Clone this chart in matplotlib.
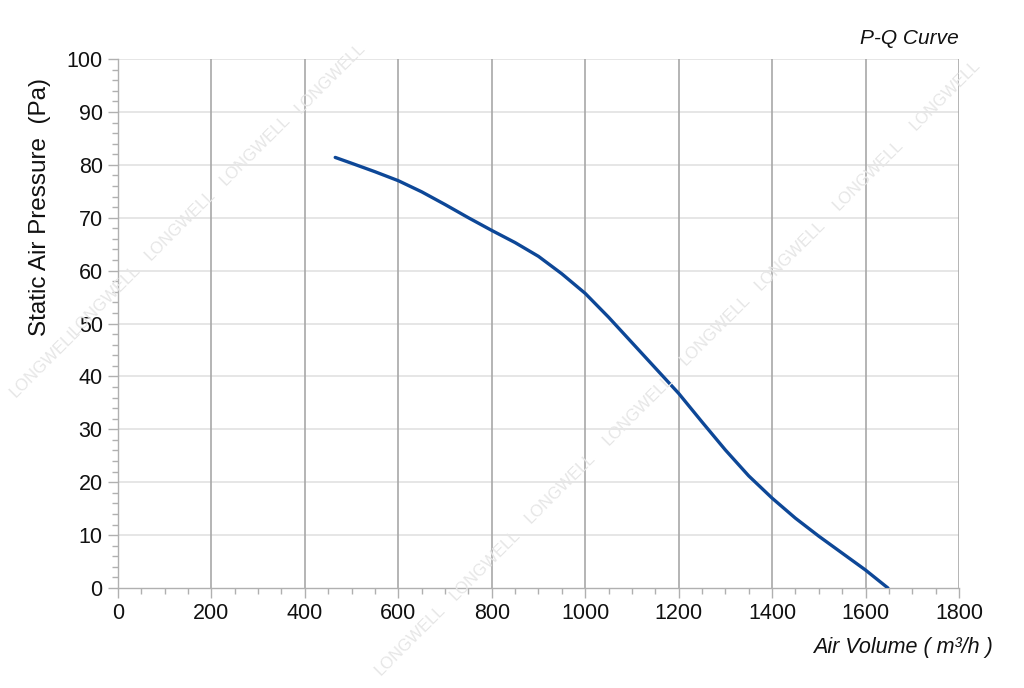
import numpy as np
import matplotlib
matplotlib.use("Agg")
import matplotlib.pyplot as plt
from matplotlib.ticker import MultipleLocator

plt.rcParams['font.family'] = ['Liberation Sans', 'DejaVu Sans']

# P-Q curve
air_volume = [465, 500, 550, 600, 650, 700, 750, 800, 850, 900, 950, 1000,
              1050, 1100, 1150, 1200, 1250, 1300, 1350, 1400, 1450, 1500,
              1550, 1600, 1648]
pressure = [81.4, 80.3, 78.7, 77.0, 74.9, 72.5, 70.0, 67.6, 65.3, 62.7, 59.4, 55.7,
            51.2, 46.4, 41.6, 36.8, 31.4, 26.1, 21.2, 17.0, 13.2, 9.8,
            6.6, 3.4, 0.0]

x_ticks = [0, 200, 400, 600, 800, 1000, 1200, 1400, 1600, 1800]
y_ticks = [0, 10, 20, 30, 40, 50, 60, 70, 80, 90, 100]

fig = plt.figure(figsize=(10.24, 6.88), dpi=100)
ax = fig.add_axes([0.1152, 0.1453, 0.8213, 0.7689])

# faint watermark
wm_pos = [(45, 362), (105, 300), (180, 225), (255, 150), (330, 78),
          (410, 640), (485, 565), (560, 488), (638, 410), (715, 330),
          (790, 255), (868, 175), (945, 95)]
for px, py in wm_pos:
    fig.text(px / 1024, 1 - py / 688, "LONGWELL", rotation=45, fontsize=12,
             color="#e6e6e6", ha="center", va="center", zorder=0)

ax.plot(air_volume, pressure, color="#0d4797", linewidth=2.4, zorder=3,
        solid_capstyle="round", solid_joinstyle="round")

ax.set_xlim(0, 1800)
ax.set_ylim(0, 100)
ax.set_xticks(x_ticks)
ax.set_yticks(y_ticks)
ax.xaxis.set_minor_locator(MultipleLocator(50))
ax.yaxis.set_minor_locator(MultipleLocator(2))
ax.tick_params(axis="both", which="major", labelsize=15.5, length=7,
               color="#b0b0b0", width=1, pad=4, labelcolor="#111111")
ax.tick_params(axis="both", which="minor", length=4, color="#b0b0b0", width=1)

ax.patch.set_alpha(0)
for side in ["top", "right"]:
    ax.spines[side].set_visible(False)
for side in ["left", "bottom"]:
    ax.spines[side].set_color("#b0b0b0")
    ax.spines[side].set_linewidth(1)

for v in y_ticks[1:]:
    ax.axhline(v, color="#e2e2e2", linewidth=1.2, zorder=1)
for v in x_ticks[1:]:
    ax.axvline(v, color="#a8a8a8", linewidth=1.2, zorder=2)

fig.text(40 / 1024, 1 - 207 / 688, "Static Air Pressure  (Pa)", rotation=90,
         fontsize=17.5, ha="center", va="center", color="#111111")
fig.text(993 / 1024, 1 - 647 / 688, "Air Volume ( m³/h )", style="italic",
         fontsize=15.5, ha="right", va="center", color="#111111")
fig.text(959 / 1024, 1 - 38 / 688, "P-Q Curve", style="italic",
         fontsize=15, ha="right", va="center", color="#111111")

fig.savefig("out.png", dpi=100)
